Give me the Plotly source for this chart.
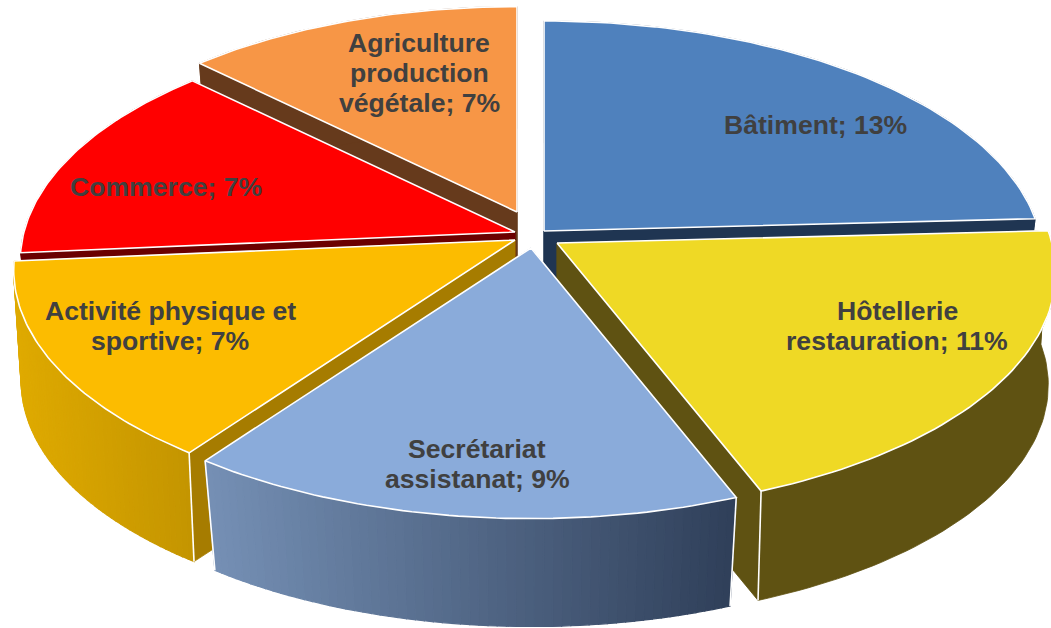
import math
import plotly.graph_objects as go

# ---- data -----------------------------------------------------------------
categories = ["Bâtiment", "Hôtellerie<br>restauration", "Secrétariat<br>assistanat",
              "Activité physique et<br>sportive", "Commerce", "Agriculture<br>production<br>végétale"]
values = [13.0, 10.7, 8.6, 7.3, 7.4, 6.8]

# ---- styles ----------------------------------------------------------------
top_colors = ["#4f81bd", "#efd925", "#8aabda", "#fcbc00", "#ff0000", "#f79646"]
cut_colors = ["#1f3552", "#5f5212", "#46597a", "#a67c00", "#6b0000", "#663a1c"]
wall_left = ["#1f3552", "#5f5212", "#7590b5", "#dfaa00", "#6b0000", "#663a1c"]
wall_right = ["#1f3552", "#5f5212", "#2f3f59", "#c49500", "#6b0000", "#663a1c"]
apex_x = [544, 557, 531, 515, 515, 517]
apex_y = [231, 243, 248, 240, 232, 212]
scale = [1.0, 1.0, 1.005, 1.005, 0.992, 0.975]
shrink = [0.97, 0.985, 0.97, 0.985, 0.97, 0.97]
depth = [116.0, 113.0, 116.0, 112.0, 116.0, 116.0]
label_x = [815, 897, 477, 170, 166, 419]
label_y = [125, 326, 464, 326, 187, 73]
draw_order = [5, 4, 0, 3, 1, 2]
LINE_GAP = 30

RX, RY, K = 495.0, 236.0, 0.123   # disc radii and perspective
N = 60


def pt(i, deg, lower=False):
    t = math.radians(deg)
    u, v = math.sin(t) * scale[i], math.cos(t) * scale[i]
    s = 1.0 / (1.0 + K * v)
    f = shrink[i] if lower else 1.0
    return (apex_x[i] + f * RX * u * s,
            apex_y[i] + (depth[i] if lower else 0.0) - f * RY * v * s)


def hex_mix(a, b, t):
    ca = [int(a[j:j + 2], 16) for j in (1, 3, 5)]
    cb = [int(b[j:j + 2], 16) for j in (1, 3, 5)]
    return "#" + "".join(f"{round(x + (y - x) * t):02x}" for x, y in zip(ca, cb))


total = sum(values)
starts, acc = [], 0.0
for val in values:
    starts.append(acc)
    acc += val / total * 360.0

fig = go.Figure()


def poly(points, color, lw=0.8, lcolor=None):
    fig.add_trace(go.Scatter(
        x=[p[0] for p in points] + [points[0][0]],
        y=[p[1] for p in points] + [points[0][1]],
        mode="lines", fill="toself", fillcolor=color,
        line=dict(color=lcolor or color, width=lw),
        hoverinfo="skip", showlegend=False))


def seg(a, b, color="white", lw=1.6):
    fig.add_trace(go.Scatter(x=[a[0], b[0]], y=[a[1], b[1]], mode="lines",
                             line=dict(color=color, width=lw),
                             hoverinfo="skip", showlegend=False))


for i in draw_order:
    a0 = starts[i]
    a1 = a0 + values[i] / total * 360.0
    angs = [a0 + (a1 - a0) * n / N for n in range(N + 1)]
    ap_top, ap_low = (apex_x[i], apex_y[i]), (apex_x[i], apex_y[i] + depth[i])
    # cut faces
    for ang in (a0, a1):
        poly([ap_top, pt(i, ang), pt(i, ang, True), ap_low], cut_colors[i])
    # outer wall: shaded strips, or a single polygon if the wall has one colour
    if wall_left[i] == wall_right[i]:
        poly([pt(i, g) for g in angs] + [pt(i, g, True) for g in reversed(angs)], wall_left[i])
    else:
        xs = [pt(i, g)[0] for g in angs]
        xmin, xmax = min(xs), max(xs)
        for g0, g1 in zip(angs[:-1], angs[1:]):
            tm = ((pt(i, g0)[0] + pt(i, g1)[0]) / 2 - xmin) / max(xmax - xmin, 1)
            col = hex_mix(wall_left[i], wall_right[i], tm)
            poly([pt(i, g0), pt(i, g1), pt(i, g1, True), pt(i, g0, True)], col, lw=1.2)
    # white corner edges on the front
    for ang in (a0, a1):
        if math.cos(math.radians(ang)) < -0.2:
            seg(pt(i, ang), pt(i, ang, True))
    # top face
    poly([ap_top] + [pt(i, g) for g in angs], top_colors[i], lw=1.6, lcolor="white")

annotations = []
for i in range(len(values)):
    lines = f"{categories[i]}; {round(values[i])}%".split("<br>")
    for k, line in enumerate(lines):
        annotations.append(dict(
            x=label_x[i], y=label_y[i] + (k - (len(lines) - 1) / 2) * LINE_GAP,
            xref="x", yref="y", showarrow=False, text=line, align="center",
            font=dict(family="Liberation Sans", size=26.6, color="#404040", weight="bold")))

fig.update_layout(
    width=1051, height=628, margin=dict(l=0, r=0, t=0, b=0),
    paper_bgcolor="white", plot_bgcolor="white", annotations=annotations,
    xaxis=dict(range=[0, 1051], visible=False, fixedrange=True),
    yaxis=dict(range=[628, 0], visible=False, fixedrange=True),
)
fig.write_html("out.html", config=dict(displayModeBar=False),
               post_script="document.body.style.margin='0';document.body.style.overflow='hidden';")
